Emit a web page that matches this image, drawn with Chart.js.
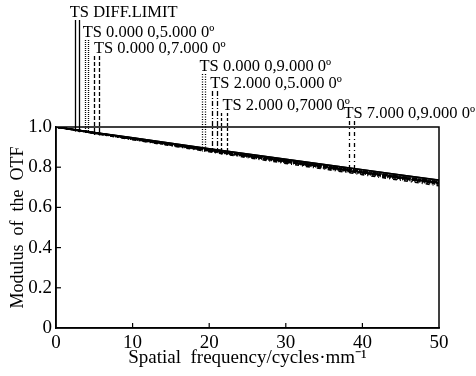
<!DOCTYPE html>
<html>
<head>
<meta charset="utf-8">
<script src="https://cdn.jsdelivr.net/npm/chart.js@4/dist/chart.umd.min.js"></script>
<style>
  html, body { margin: 0; padding: 0; background: #fff; }
  #wrap { width: 476px; height: 376px; }
</style>
</head>
<body>
<div id="wrap"><canvas id="otf"></canvas></div>
<script>
// Frecuencias (ciclos/mm)
const freq = [0, 5, 10, 15, 20, 25, 30, 35, 40, 45, 50];

// Curvas MTF: T y S para cada campo
const diffT = [1, 0.973, 0.946, 0.919, 0.892, 0.866, 0.839, 0.813, 0.787, 0.761, 0.736];
const diffS = [1, 0.973, 0.946, 0.919, 0.892, 0.866, 0.839, 0.813, 0.787, 0.761, 0.735];
const f05T = [1, 0.971, 0.943, 0.915, 0.887, 0.860, 0.832, 0.805, 0.778, 0.752, 0.726];
const f05S = [1, 0.972, 0.944, 0.916, 0.889, 0.862, 0.835, 0.808, 0.781, 0.755, 0.729];
const f07T = [1, 0.970, 0.941, 0.912, 0.884, 0.856, 0.828, 0.800, 0.773, 0.746, 0.720];
const f07S = [1, 0.971, 0.943, 0.914, 0.886, 0.859, 0.831, 0.804, 0.777, 0.750, 0.724];
const f09T = [1, 0.969, 0.939, 0.909, 0.880, 0.851, 0.823, 0.795, 0.767, 0.740, 0.713];
const f09S = [1, 0.970, 0.941, 0.912, 0.883, 0.855, 0.827, 0.799, 0.772, 0.745, 0.718];
const f25T = [1, 0.971, 0.942, 0.914, 0.886, 0.858, 0.830, 0.803, 0.776, 0.749, 0.723];
const f25S = [1, 0.972, 0.944, 0.916, 0.888, 0.861, 0.834, 0.807, 0.780, 0.754, 0.728];
const f27T = [1, 0.970, 0.940, 0.911, 0.882, 0.854, 0.826, 0.798, 0.771, 0.744, 0.717];
const f27S = [1, 0.971, 0.942, 0.913, 0.885, 0.857, 0.830, 0.802, 0.775, 0.749, 0.722];
const f79T = [1, 0.968, 0.937, 0.907, 0.877, 0.848, 0.819, 0.791, 0.763, 0.735, 0.708];
const f79S = [1, 0.970, 0.940, 0.911, 0.882, 0.854, 0.826, 0.799, 0.772, 0.745, 0.719];

// Etiquetas de cada campo y frecuencia donde caen sus líneas guía (T, S)
const fieldLabels = [
    'TS DIFF.LIMIT',
    'TS 0.000 0,5.000 0º',
    'TS 0.000 0,7.000 0º',
    'TS 0.000 0,9.000 0º',
    'TS 2.000 0,5.000 0º',
    'TS 2.000 0,7000 0º',
    'TS 7.000 0,9.000 0º'
];
const leaderFreqT = [2.45, 3.75, 4.95, 19.0, 20.4, 21.6, 38.3];
const leaderFreqS = [3.0, 4.2, 5.6, 19.5, 21.0, 22.3, 38.9];

const tCurves = [diffT, f05T, f07T, f09T, f25T, f27T, f79T];
const sCurves = [diffS, f05S, f07S, f09S, f25S, f27S, f79S];

// Estilo: trazo de cada campo y posición de su rótulo
const dashes = [[], [1, 1], [4, 2], [1, 1.5], [5, 2, 1, 2], [3, 2], [4, 3, 1, 3]];
const labelBaseY = [17, 37, 53, 71, 88, 110, 118];
const labelOffsetX = [-5, -2, 0, -2, -2, 1, -6];

const FONT = "'Liberation Serif', 'Times New Roman', serif";

const datasets = [];
tCurves.forEach((c, i) => {
    [c, sCurves[i]].forEach(vals => {
        datasets.push({
            data: freq.map((f, k) => ({ x: f, y: vals[k] })),
            borderColor: '#000',
            borderWidth: 1.6,
            borderDash: dashes[i],
            pointRadius: 0,
            tension: 0
        });
    });
});

// Valor de la curva (en píxeles) en una frecuencia dada, usando los puntos del dataset
function curvePixelY(chart, dsIndex, f) {
    const pts = chart.getDatasetMeta(dsIndex).data;
    const px = chart.scales.x.getPixelForValue(f);
    for (let k = 1; k < pts.length; k++) {
        if (pts[k].x >= px) {
            const a = pts[k - 1], b = pts[k];
            const t = (px - a.x) / (b.x - a.x);
            return a.y + t * (b.y - a.y);
        }
    }
    return pts[pts.length - 1].y;
}

const framePlugin = {
    id: 'frame',
    afterDraw(chart) {
        const { ctx, chartArea: a, scales } = chart;
        ctx.save();
        ctx.strokeStyle = '#000';
        ctx.lineWidth = 1.5;
        ctx.strokeRect(a.left, a.top, a.right - a.left, a.bottom - a.top);

        // Marcas hacia dentro
        ctx.lineWidth = 1.2;
        [0.2, 0.4, 0.6, 0.8].forEach(v => {
            const y = scales.y.getPixelForValue(v);
            ctx.beginPath();
            ctx.moveTo(a.left, y);
            ctx.lineTo(a.left + 5, y);
            ctx.stroke();
        });
        [10, 20, 30, 40].forEach(v => {
            const x = scales.x.getPixelForValue(v);
            ctx.beginPath();
            ctx.moveTo(x, a.bottom);
            ctx.lineTo(x, a.bottom - 5);
            ctx.stroke();
        });

        // Rótulos y líneas guía
        ctx.fillStyle = '#000';
        ctx.font = '16.5px ' + FONT;
        ctx.textBaseline = 'alphabetic';
        ctx.textAlign = 'left';
        fieldLabels.forEach((txt, i) => {
            const xT = scales.x.getPixelForValue(leaderFreqT[i]);
            const xS = scales.x.getPixelForValue(leaderFreqS[i]);
            ctx.fillText(txt, xT + labelOffsetX[i], labelBaseY[i]);
            ctx.lineWidth = 1.3;
            ctx.setLineDash(dashes[i]);
            [[xT, 2 * i, leaderFreqT[i]], [xS, 2 * i + 1, leaderFreqS[i]]].forEach(([x, ds, f]) => {
                const yEnd = curvePixelY(chart, ds, f);
                ctx.beginPath();
                ctx.moveTo(Math.round(x) + 0.5, labelBaseY[i] + 3);
                ctx.lineTo(Math.round(x) + 0.5, yEnd + 2);
                ctx.stroke();
            });
        });
        ctx.setLineDash([]);
        ctx.restore();
    }
};

new Chart(document.getElementById('otf'), {
    type: 'line',
    data: { datasets },
    plugins: [framePlugin],
    options: {
        responsive: true,
        maintainAspectRatio: false,
        animation: false,
        layout: { padding: { top: 127, right: 37, left: 0, bottom: 0 } },
        plugins: {
            legend: { display: false },
            tooltip: { enabled: false }
        },
        scales: {
            x: {
                type: 'linear',
                min: 0,
                max: 50,
                grid: { display: false, drawTicks: false, tickLength: 0 },
                border: { color: '#000', width: 1.5 },
                ticks: {
                    stepSize: 10,
                    color: '#000',
                    padding: 4,
                    maxRotation: 0,
                    font: { family: FONT, size: 19 }
                },
                title: {
                    display: true,
                    text: 'Spatial  frequency/cycles·mm⁻¹',
                    color: '#000',
                    padding: { top: 0, bottom: 7 },
                    font: { family: FONT, size: 19 }
                },
                afterFit: (scale) => { scale.height = 48; }
            },
            y: {
                min: 0,
                max: 1,
                grid: { display: false, drawTicks: false, tickLength: 0 },
                border: { color: '#000', width: 1.5 },
                ticks: {
                    stepSize: 0.2,
                    color: '#000',
                    padding: 4,
                    font: { family: FONT, size: 19 },
                    callback: (v) => v === 0 ? '0' : v.toFixed(1)
                },
                title: {
                    display: true,
                    text: 'Modulus  of  the  OTF',
                    color: '#000',
                    padding: { top: 7, bottom: 0 },
                    font: { family: FONT, size: 18 }
                },
                afterFit: (scale) => { scale.width = 56; }
            }
        }
    }
});
</script>
</body>
</html>
